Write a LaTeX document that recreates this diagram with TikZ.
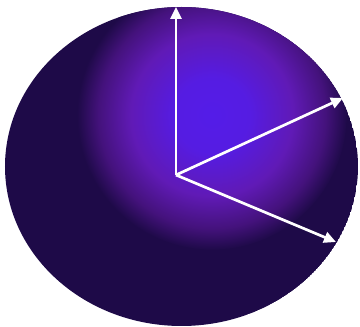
\documentclass[tikz,border=0pt]{standalone}
\usetikzlibrary{arrows.meta}
\definecolor{darkc}{RGB}{30,10,72}
\definecolor{glowc}{RGB}{84,28,232}
\definecolor{midc}{RGB}{96,26,182}
\definecolor{rimc}{RGB}{68,18,124}
\pgfdeclareradialshading{glow}{\pgfpointorigin}{color(0bp)=(glowc); color(7bp)=(glowc!88!midc); color(15bp)=(midc); color(21bp)=(rimc); color(25bp)=(darkc); color(50bp)=(darkc)}
\tikzset{vec/.style={draw=white, line width=2.7pt, -{Triangle[length=12pt,width=11pt]}}}
\begin{document}
\begin{tikzpicture}[x=1pt,y=1pt]
\useasboundingbox (0,0) rectangle (360,327);
\begin{scope}
\clip (181.5,160.5) ellipse [x radius=176.5, y radius=159.5];
\fill[darkc] (181.5,160.5) ellipse [x radius=176.5, y radius=159.5];
\shade[shading=glow] (212,212) circle [radius=135];
\end{scope}
\coordinate (o) at (176,152);
\coordinate (a) at (176,320);
\coordinate (b) at (343,229);
\coordinate (c) at (336,85);
\draw[vec] (o) -- (a);
\draw[vec] (o) -- (b);
\draw[vec] (o) -- (c);
\end{tikzpicture}
\end{document}
